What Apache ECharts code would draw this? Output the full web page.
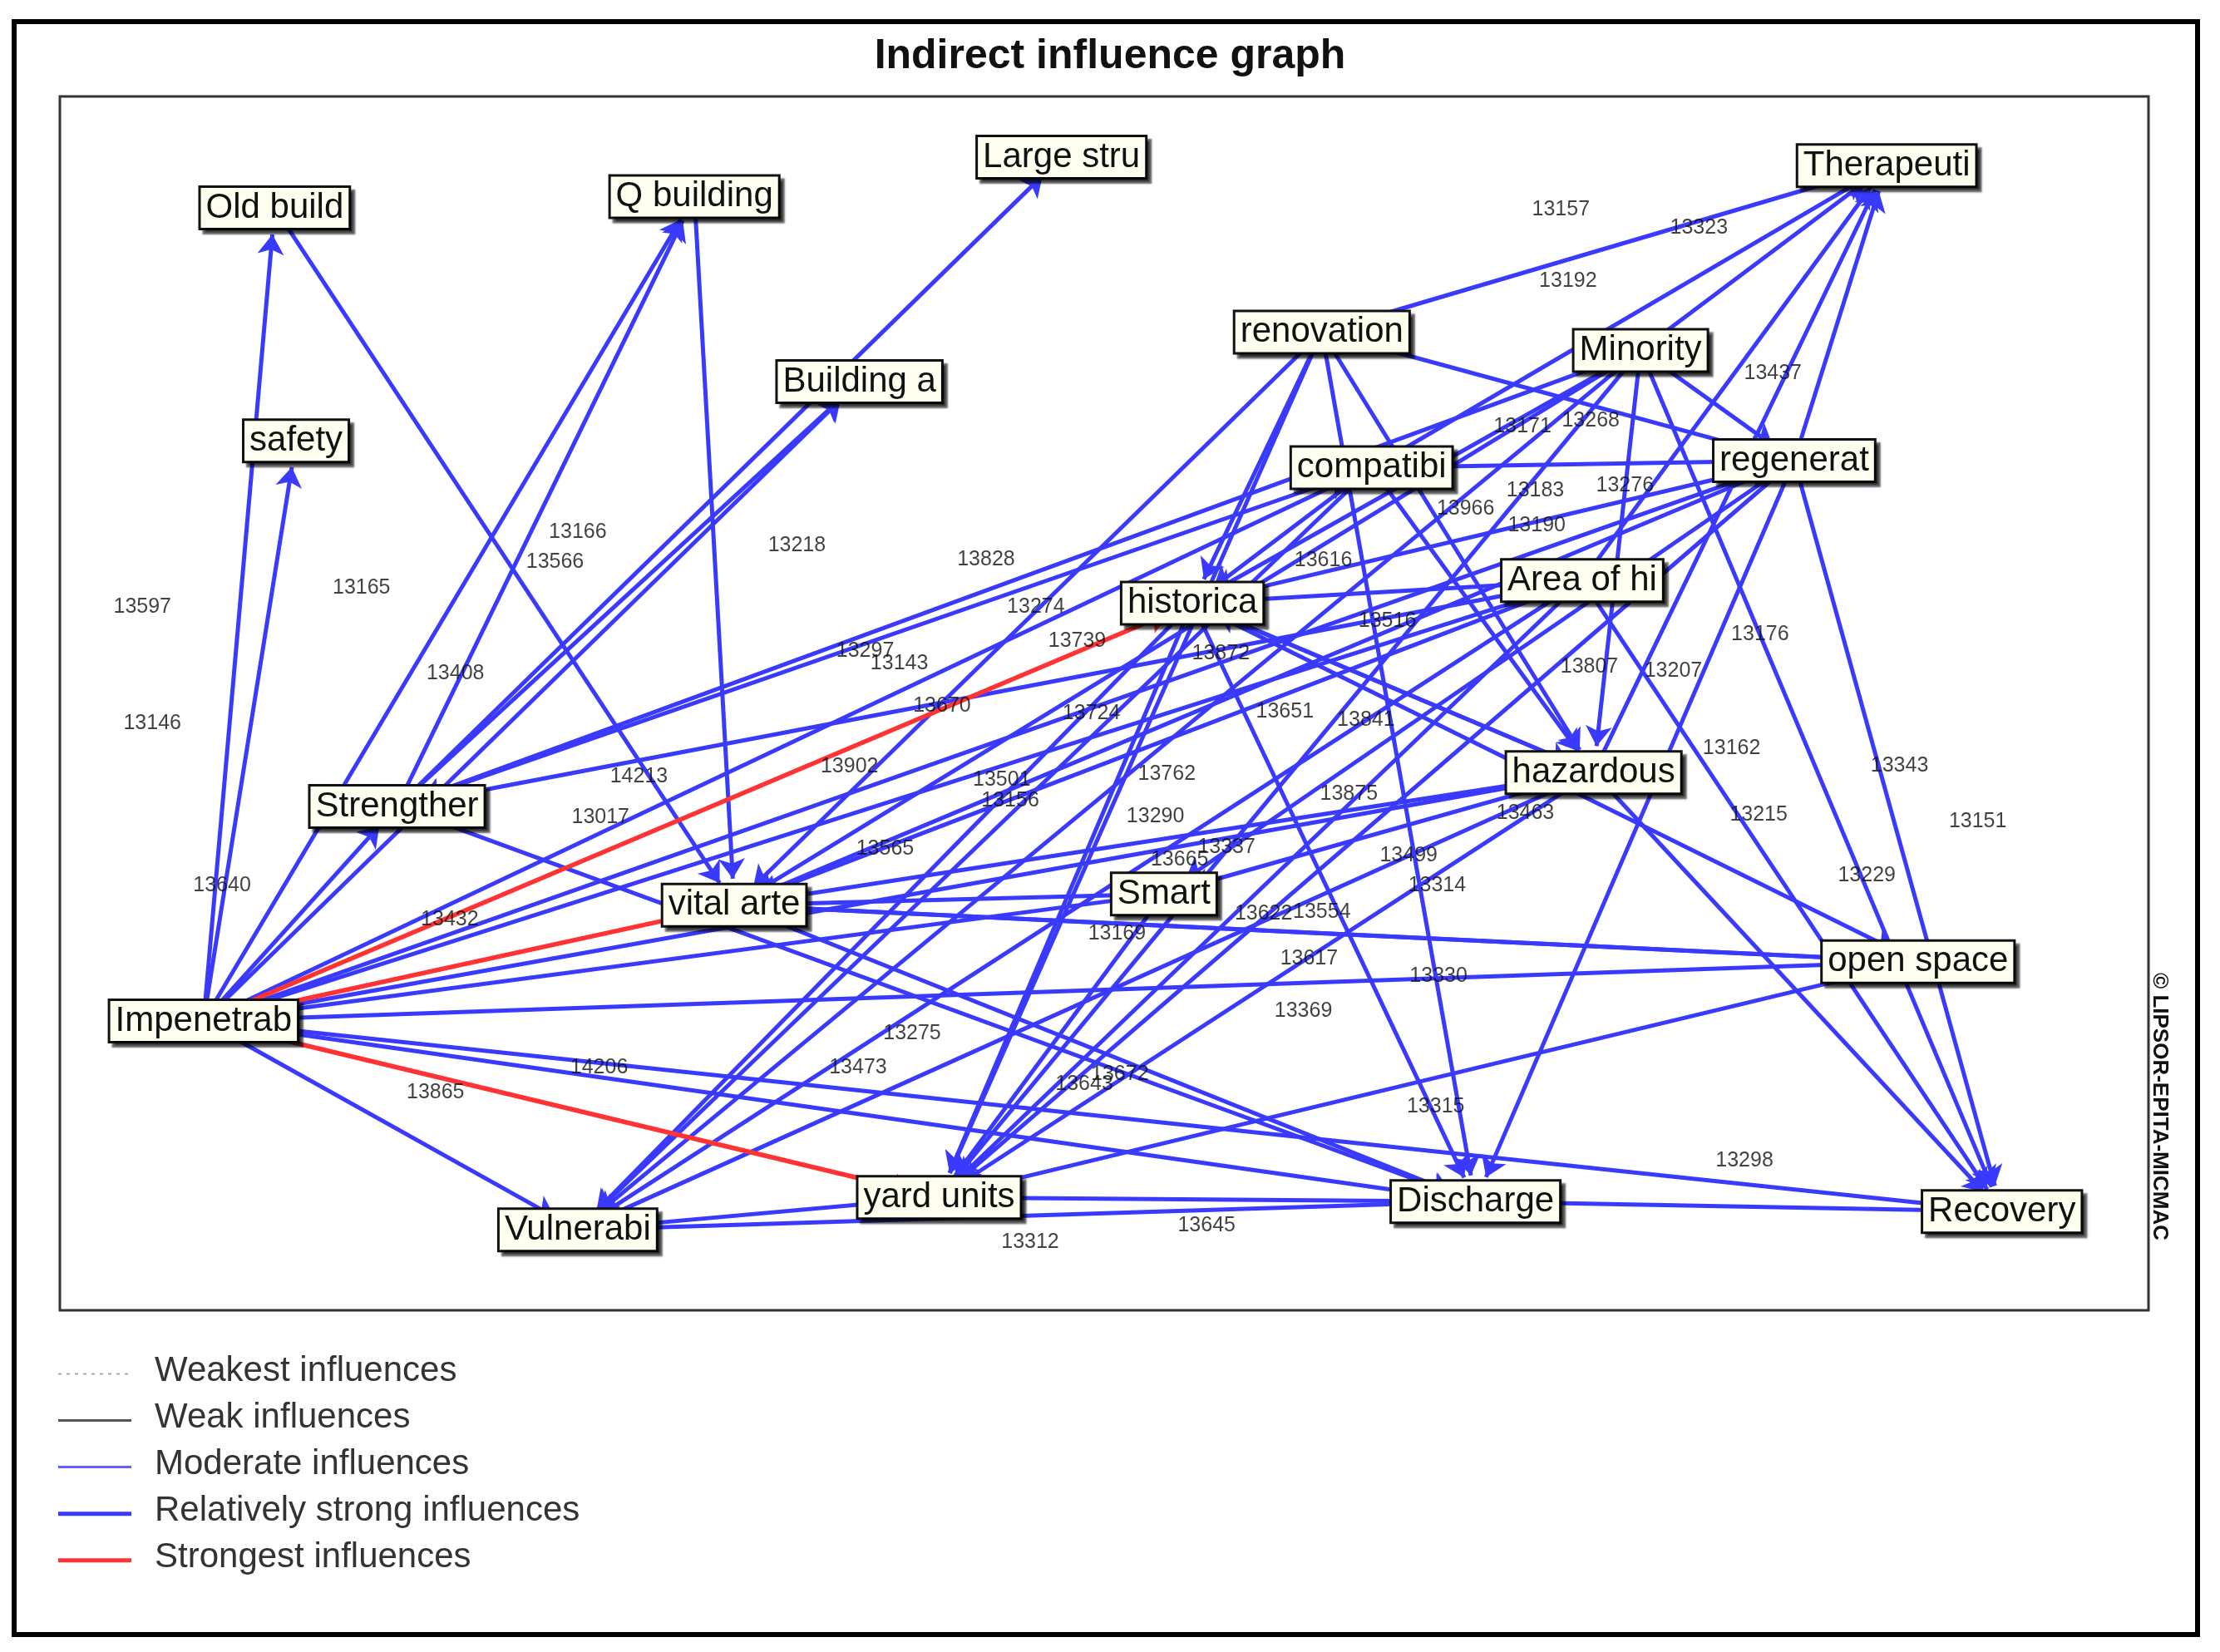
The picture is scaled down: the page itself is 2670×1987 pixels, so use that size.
<!DOCTYPE html>
<html><head><meta charset="utf-8">
<script src="https://cdn.jsdelivr.net/npm/echarts@6/dist/echarts.min.js"></script>
<style>html,body{margin:0;padding:0;background:#fff}#c{width:2670px;height:1987px}</style>
</head><body><div id="c"></div>
<script>
// node names and positions (in reference pixel units of the plot)
const nodeNames = ['Old build','Q building','Large stru','Therapeuti','renovation','Minority','Building a','safety','compatibi','regenerat','historica','Area of hi','hazardous','Strengther','vital arte','Smart','open space','Impenetrab','yard units','Vulnerabi','Discharge','Recovery'];
const nodeX = [193,488,746,1326,929,1153,604,208,964,1261,838,1112,1120,279,516,818,1348,143,660,406,1037,1407];
const nodeY = [147,139,111,117,235,248,270,312,331,326,427,411,547,571,641,633,681,723,848,871,851,858];

const strongest = [['Impenetrab','historica'],['Impenetrab','vital arte'],['Impenetrab','yard units']];
const moderate = [
  ['Impenetrab','Old build'],['Impenetrab','safety'],['Impenetrab','Strengther'],['Impenetrab','Q building'],['Impenetrab','Building a'],
  ['Impenetrab','Vulnerabi'],['Impenetrab','Recovery'],['Impenetrab','Discharge'],['Impenetrab','open space'],['Impenetrab','hazardous'],
  ['Impenetrab','Smart'],['Impenetrab','Area of hi'],['Impenetrab','compatibi'],['Impenetrab','regenerat'],
  ['Old build','vital arte'],['Q building','vital arte'],['Strengther','Large stru'],['Strengther','Building a'],['Strengther','Q building'],['Strengther','Discharge'],
  ['renovation','Therapeuti'],['renovation','historica'],['renovation','vital arte'],['renovation','yard units'],['renovation','hazardous'],['renovation','regenerat'],['renovation','Discharge'],
  ['Minority','Therapeuti'],['Minority','historica'],['Minority','Strengther'],['Minority','vital arte'],['Minority','yard units'],['Minority','Vulnerabi'],['Minority','regenerat'],['Minority','Recovery'],['Minority','hazardous'],
  ['compatibi','Therapeuti'],['compatibi','historica'],['compatibi','regenerat'],['compatibi','hazardous'],['compatibi','Vulnerabi'],['compatibi','Strengther'],
  ['regenerat','Therapeuti'],['regenerat','historica'],['regenerat','vital arte'],['regenerat','yard units'],['regenerat','Recovery'],['regenerat','Smart'],['regenerat','Discharge'],
  ['Area of hi','Therapeuti'],['Area of hi','historica'],['Area of hi','vital arte'],['Area of hi','yard units'],['Area of hi','Strengther'],['Area of hi','Recovery'],['Area of hi','Vulnerabi'],
  ['historica','hazardous'],['historica','Discharge'],['historica','yard units'],['historica','Vulnerabi'],['historica','open space'],
  ['hazardous','Therapeuti'],['hazardous','historica'],['hazardous','yard units'],['hazardous','Recovery'],['hazardous','Vulnerabi'],['hazardous','Smart'],
  ['open space','yard units'],['open space','vital arte'],['yard units','Vulnerabi'],['Discharge','yard units'],['Discharge','Recovery'],['Discharge','Vulnerabi'],
  ['vital arte','Discharge'],['vital arte','hazardous'],['vital arte','open space'],['Smart','vital arte'],['Smart','yard units']
];

// edge value labels and where they sit
const edgeLabels = ['13157','13323','13192','13437','13171','13268','13183','13276','13190','13966','13616','13828','13274','13166','13566','13218','13597','13165','13408','13146','13297','13143','13670','13739','13724','13872','13651','13841','13516','13176','13807','13207','13162','13343','13151','14213','13017','13902','13501','13156','13762','13290','13665','13337','13875','13499','13314','13215','13229','13640','13432','13565','13169','13622','13554','13617','13330','13369','13275','13473','14206','13865','13672','13643','13315','13298','13645','13312','13463'];
const edgeLabelX = [1097,1194,1102,1246,1070,1118,1079,1142,1080,1030,930,693,728,406,390,560,100,254,320,107,608,632,662,757,767,858,903,960,975,1237,1117,1176,1217,1335,1390,449,422,597,704,710,820,812,829,862,948,990,1010,1236,1312,156,316,622,785,888,929,920,1011,916,641,603,421,306,787,762,1009,1226,848,724,1072];
const edgeLabelY = [148,161,199,264,302,298,347,344,372,360,397,396,430,377,398,386,430,416,477,512,461,470,500,454,505,463,504,510,440,449,472,475,530,542,582,550,579,543,552,567,548,578,609,600,562,606,627,577,620,627,651,601,661,647,646,679,691,716,732,756,756,774,761,768,784,822,868,880,576];

const legendNames = ['Weakest influences','Weak influences','Moderate influences','Relatively strong influences','Strongest influences'];

const BLUE = '#3a3aff', RED = '#ff3333';
const nodes = nodeNames.map((n, i) => ({ name: n, value: [nodeX[i], nodeY[i]] }));
const links = moderate.map(([s, t]) => ({ source: s, target: t, lineStyle: { color: BLUE, width: 5 } }))
  .concat(strongest.map(([s, t]) => ({ source: s, target: t, lineStyle: { color: RED, width: 5.5 } })));

const chart = echarts.init(document.getElementById('c'));
const S = 1.7;
const legendGraphics = [];
legendNames.forEach((n, i) => {
  const y = 972 * S + i * 33 * S;
  const styles = [
    { stroke: '#aaa', lineWidth: 2, lineDash: [4, 6] },
    { stroke: '#555', lineWidth: 3 },
    { stroke: '#6060ff', lineWidth: 3 },
    { stroke: BLUE, lineWidth: 5 },
    { stroke: RED, lineWidth: 5 }
  ];
  legendGraphics.push({ type: 'line', shape: { x1: 70, y1: y, x2: 158, y2: y }, style: styles[i] });
  legendGraphics.push({ type: 'text', left: 186, top: y - 24, style: { text: n, font: '42px "Liberation Sans"', fill: '#333' } });
});

chart.setOption({
  animation: false,
  backgroundColor: '#fff',
  title: { text: 'Indirect influence graph', left: 'center', top: 38, textStyle: { fontSize: 50, fontWeight: 'bold', fontFamily: 'Liberation Sans', color: '#111' } },
  grid: { left: 72, right: 86, top: 116, bottom: 411, show: true, borderColor: '#333', borderWidth: 3 },
  xAxis: { type: 'value', min: 42, max: 1510, show: false },
  yAxis: { type: 'value', min: 68, max: 928, inverse: true, show: false },
  graphic: [
    { type: 'rect', shape: { x: 17, y: 26, width: 2626, height: 1940 }, style: { fill: 'none', stroke: '#000', lineWidth: 6 } },
    { type: 'text', x: 2610, y: 1170, rotation: -Math.PI / 2, style: { text: '© LIPSOR-EPITA-MICMAC', font: 'bold 26px "Liberation Sans"', fill: '#111' } }
  ].concat(legendGraphics),
  series: [
    {
      type: 'graph', coordinateSystem: 'cartesian2d', layout: 'none', z: 2,
      symbol: 'rect', symbolSize: 64, itemStyle: { color: 'rgba(0,0,0,0)' },
      edgeSymbol: ['none', 'arrow'], edgeSymbolSize: [0, 24],
      data: nodes,
      links: links,
      label: {
        show: true, position: 'inside', color: '#111', fontSize: 42, fontFamily: 'Liberation Sans',
        backgroundColor: '#fffff0', borderColor: '#111', borderWidth: 3, padding: [4, 6, 2, 6],
        shadowColor: 'rgba(0,0,0,0.6)', shadowOffsetX: 5, shadowOffsetY: 5, shadowBlur: 2
      },
      lineStyle: { opacity: 1 }
    },
    {
      type: 'scatter', z: 3, symbolSize: 0,
      data: edgeLabels.map((t, i) => ({ value: [edgeLabelX[i], edgeLabelY[i]], name: t })),
      label: { show: true, position: 'inside', formatter: '{b}', fontSize: 25, fontFamily: 'Liberation Sans', color: '#111' }
    }
  ]
});
</script></body></html>
